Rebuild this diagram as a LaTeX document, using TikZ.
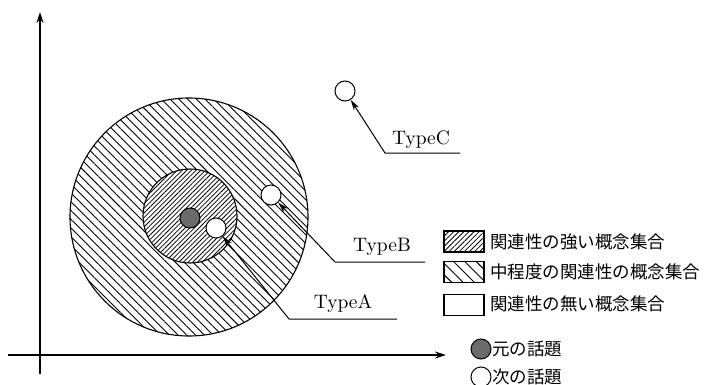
\documentclass[tikz,border=0pt]{standalone}
\usepackage{fontspec}
\newfontfamily\jp{Noto Sans CJK JP}
\newfontfamily\lmten{lmroman10-regular}[Extension=.otf]
\usetikzlibrary{arrows.meta,patterns.meta}
\tikzset{
  axisline/.style={line width=1.3pt,-{Stealth[length=11pt,width=7pt]}},
  leader/.style={line width=1pt,-{Stealth[length=11pt,width=6pt]}},
  dot/.style={circle,draw,line width=1pt,minimum size=20pt,inner sep=0pt},
  topic/.style={dot,fill=white},
  origin/.style={dot,fill=black!58},
  outerhatch/.style={pattern={Lines[angle=-45,distance=6.2pt,line width=0.9pt]}},
  innerhatch/.style={pattern={Lines[angle=45,distance=3.3pt,line width=0.8pt]}},
  boxhatchA/.style={pattern={Lines[angle=45,distance=3.6pt,line width=0.8pt]}},
  boxhatchB/.style={pattern={Lines[angle=-45,distance=8pt,line width=0.9pt]}},
  typelabel/.style={font=\lmten\fontsize{19.5}{22}\selectfont,inner sep=0pt},
  legtext/.style={font=\jp\fontsize{17.5}{20}\selectfont,anchor=west,inner sep=0pt},
  legbox/.style={draw,line width=1.2pt,minimum width=40pt,minimum height=21pt,inner sep=0pt},
}
\begin{document}
\begin{tikzpicture}[x=1pt,y=-1pt]
\useasboundingbox (0,0) rectangle (709,385);
% axes
\coordinate (yb) at (40,374);
\coordinate (yt) at (40,12);
\coordinate (xl) at (8,355);
\coordinate (xr) at (446,355);
\draw[axisline] (yb) -- (yt);
\draw[axisline] (xl) -- (xr);
% circles
\node[circle,draw,line width=1.1pt,minimum size=238pt,inner sep=0pt,outerhatch] (outer) at (189,217) {};
\node[circle,draw,line width=1.1pt,minimum size=94pt,inner sep=0pt,innerhatch,preaction={fill=white}] (inner) at (190,216) {};
\node[origin] (O) at (190,218) {};
\node[topic] (A) at (216,228) {};
\node[topic] (B) at (271,195) {};
\node[topic] (C) at (345,91) {};
% leaders
\coordinate (a2) at (397,319);
\coordinate (a1) at (289,319);
\coordinate (b2) at (425,262);
\coordinate (b1) at (335,262);
\coordinate (c2) at (460,153);
\coordinate (c1) at (385,153);
\draw[leader] (a2) -- (a1) -- (A);
\draw[leader] (b2) -- (b1) -- (B);
\draw[leader] (c2) -- (c1) -- (C);
\node[typelabel] (tA) at (343,304) {TypeA};
\node[typelabel] (tB) at (382,247) {TypeB};
\node[typelabel] (tC) at (421,140) {TypeC};
% legend
\node[legbox,boxhatchA] (L1) at (464,241.5) {};
\node[legbox,boxhatchB] (L2) at (464,272) {};
\node[legbox] (L3) at (464,305) {};
\node[legtext] (T1) at (490,242) {関連性の強い概念集合};
\node[legtext] (T2) at (490,272) {中程度の関連性の概念集合};
\node[legtext] (T3) at (490,304) {関連性の無い概念集合};
\node[origin] (LO) at (481,349) {};
\node[topic] (LT) at (481,377) {};
\node[legtext] (T4) at (492,349) {元の話題};
\node[legtext] (T5) at (492,377) {次の話題};
\end{tikzpicture}
\end{document}
